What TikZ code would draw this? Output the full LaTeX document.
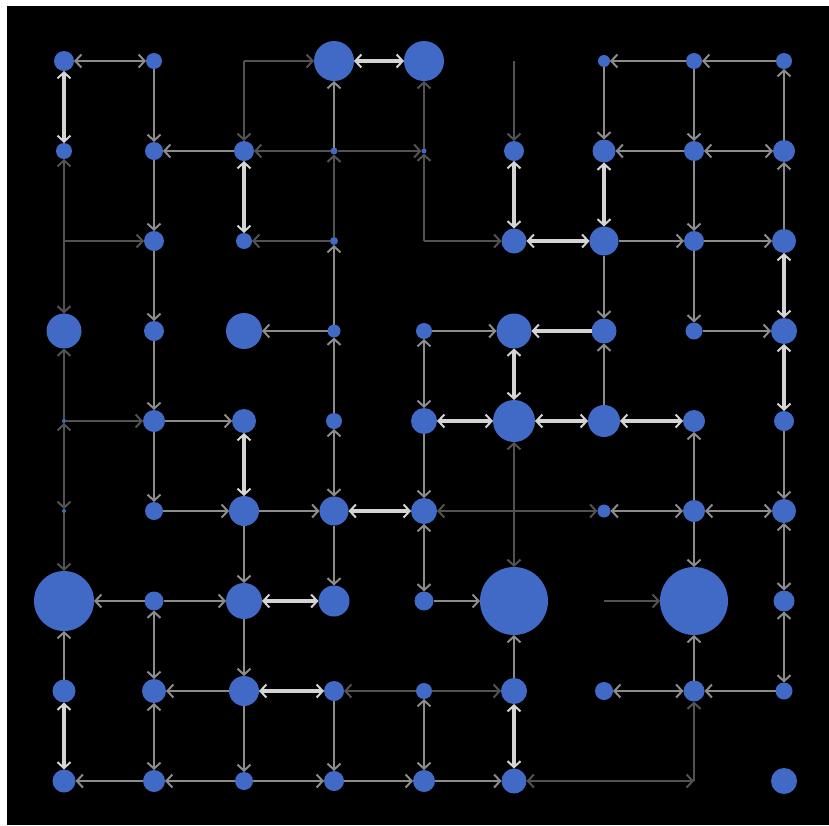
\documentclass[tikz,border=0pt]{standalone}
\usetikzlibrary{arrows.meta}
\definecolor{nodeblue}{RGB}{64,106,198}
\definecolor{edim}{RGB}{82,82,82}
\definecolor{emid}{RGB}{140,140,140}
\definecolor{ebrt}{RGB}{212,212,212}
\tikzset{
  gnode/.style={circle,fill=nodeblue,inner sep=0pt,outer sep=0pt},
  dimE/.style={draw=edim,line width=2.4pt},
  midE/.style={draw=emid,line width=2.6pt},
  brtE/.style={draw=ebrt,line width=3.4pt},
  uni/.style={-{Straight Barb[length=6pt,width=13pt,line width=2pt]}},
  bi/.style={{Straight Barb[length=6pt,width=13pt,line width=2pt]}-{Straight Barb[length=6pt,width=13pt,line width=2pt]}}
}
\newcommand\gn[3]{\node[gnode,minimum size=#3pt] (n#1#2) at ({64+90*#1},{61+90*#2}) {};}
\newcommand\gc[2]{\coordinate (n#1#2) at ({64+90*#1},{61+90*#2});}
\newcommand\ed[3]{\draw[#1] (n#2) -- (n#3);}
\begin{document}
\begin{tikzpicture}[x=1pt,y=-1pt]
\fill[white] (0,0) rectangle (829,825);
\fill[black] (7,6) rectangle (829,825);
\useasboundingbox (0,0) rectangle (829,825);
% row 0
\gn00{20}\gn10{16}\gc20\gn30{40}\gn40{40}\gc50\gn60{12}\gn70{16}\gn80{16}
% row 1
\gn01{16}\gn11{18}\gn21{20}\gn31{7}\gn41{5}\gn51{20}\gn61{23}\gn71{20}\gn81{22}
% row 2
\gc02\gn12{20}\gn22{16}\gn32{8}\gc42\gn52{25}\gn62{29}\gn72{20}\gn82{24}
% row 3
\gn03{35}\gn13{20}\gn23{36}\gn33{13}\gn43{16}\gn53{35}\gn63{25}\gn73{17}\gn83{26}
% row 4
\gn04{4}\gn14{22}\gn24{24}\gn34{16}\gn44{26}\gn54{42}\gn64{32}\gn74{22}\gn84{20}
% row 5
\gn05{4}\gn15{18}\gn25{30}\gn35{29}\gn45{26}\gc55\gn65{13}\gn75{22}\gn85{24}
% row 6
\gn06{60}\gn16{19}\gn26{36}\gn36{31}\gn46{19}\gn56{68}\gc66\gn76{68}\gn86{21}
% row 7
\gn07{23}\gn17{24}\gn27{30}\gn37{20}\gn47{16}\gn57{26}\gn67{18}\gn77{21}\gn87{17}
% row 8
\gn08{23}\gn18{22}\gn28{18}\gn38{20}\gn48{22}\gn58{25}\gc68\gc78\gn88{26}
% edges
\ed{midE,bi}{00}{10}
\ed{brtE,bi}{00}{01}
\ed{midE,uni}{10}{11}
\ed{dimE,uni}{20}{30}
\ed{dimE,uni}{20}{21}
\ed{brtE,bi}{30}{40}
\ed{midE,uni}{31}{30}
\ed{dimE,uni}{41}{40}
\ed{dimE,uni}{50}{51}
\ed{midE,uni}{70}{60}
\ed{midE,uni}{80}{70}
\ed{midE,uni}{81}{80}
\ed{midE,uni}{60}{61}
\ed{midE,uni}{70}{71}
\ed{midE,uni}{21}{11}
\ed{dimE,uni}{31}{21}
\ed{dimE,uni}{31}{41}
\ed{brtE,bi}{21}{22}
\ed{midE,uni}{11}{12}
\ed{dimE,uni}{02}{01}
\ed{dimE,uni}{02}{12}
\ed{dimE,uni}{02}{03}
\ed{dimE,uni}{32}{31}
\ed{dimE,uni}{32}{22}
\ed{dimE,uni}{42}{41}
\ed{dimE,uni}{42}{52}
\ed{brtE,bi}{51}{52}
\ed{brtE,bi}{52}{62}
\ed{midE,uni}{71}{61}
\ed{midE,bi}{71}{81}
\ed{brtE,bi}{61}{62}
\ed{midE,uni}{62}{72}
\ed{midE,uni}{72}{82}
\ed{midE,uni}{82}{81}
\ed{brtE,bi}{82}{83}
\ed{midE,uni}{71}{72}
\ed{midE,uni}{62}{63}
\ed{midE,uni}{72}{73}
\ed{midE,uni}{12}{13}
\ed{midE,uni}{33}{23}
\ed{midE,uni}{33}{32}
\ed{dimE,uni}{04}{03}
\ed{dimE,uni}{04}{14}
\ed{dimE,bi}{04}{05}
\ed{dimE,uni}{05}{06}
\ed{midE,uni}{13}{14}
\ed{midE,uni}{14}{24}
\ed{brtE,bi}{24}{25}
\ed{midE,uni}{14}{15}
\ed{midE,uni}{15}{25}
\ed{midE,uni}{25}{26}
\ed{midE,uni}{25}{35}
\ed{brtE,bi}{35}{45}
\ed{dimE,uni}{55}{45}
\ed{dimE,uni}{55}{65}
\ed{dimE,uni}{55}{54}
\ed{dimE,uni}{55}{56}
\ed{midE,uni}{34}{33}
\ed{midE,bi}{34}{35}
\ed{midE,uni}{43}{53}
\ed{brtE,uni}{63}{53}
\ed{midE,bi}{43}{44}
\ed{brtE,bi}{44}{54}
\ed{brtE,bi}{53}{54}
\ed{brtE,bi}{54}{64}
\ed{midE,uni}{44}{45}
\ed{midE,bi}{45}{46}
\ed{midE,uni}{35}{36}
\ed{midE,uni}{64}{63}
\ed{brtE,bi}{64}{74}
\ed{midE,uni}{73}{83}
\ed{brtE,bi}{83}{84}
\ed{midE,uni}{84}{85}
\ed{midE,uni}{75}{74}
\ed{midE,bi}{75}{65}
\ed{midE,bi}{75}{85}
\ed{midE,bi}{85}{86}
\ed{midE,uni}{75}{76}
\ed{midE,uni}{16}{06}
\ed{midE,uni}{16}{26}
\ed{brtE,bi}{26}{36}
\ed{midE,uni}{07}{06}
\ed{brtE,bi}{07}{08}
\ed{midE,bi}{16}{17}
\ed{midE,uni}{27}{17}
\ed{midE,uni}{26}{27}
\ed{brtE,bi}{37}{27}
\ed{midE,bi}{17}{18}
\ed{midE,uni}{18}{08}
\ed{midE,uni}{28}{18}
\ed{midE,uni}{27}{28}
\ed{midE,uni}{28}{38}
\ed{midE,uni}{46}{56}
\ed{midE,uni}{57}{56}
\ed{dimE,uni}{47}{37}
\ed{dimE,uni}{47}{57}
\ed{midE,bi}{48}{47}
\ed{midE,uni}{37}{38}
\ed{midE,uni}{38}{48}
\ed{midE,uni}{48}{58}
\ed{dimE,uni}{68}{58}
\ed{brtE,bi}{57}{58}
\ed{dimE,uni}{66}{76}
\ed{midE,uni}{77}{76}
\ed{midE,bi}{86}{87}
\ed{midE,uni}{87}{77}
\ed{midE,bi}{77}{67}
\ed{dimE,uni}{78}{77}
\ed{dimE,uni}{68}{78}
\end{tikzpicture}
\end{document}
